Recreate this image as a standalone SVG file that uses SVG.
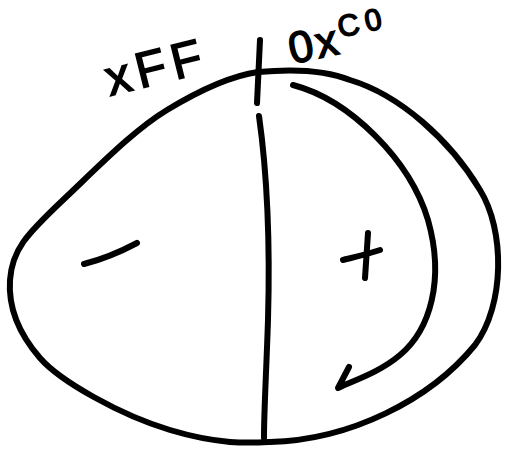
<svg xmlns="http://www.w3.org/2000/svg" width="507" height="449" viewBox="0 0 507 449">
<style>
.ink{fill:none;stroke:#000;stroke-width:6;stroke-linecap:round;stroke-linejoin:round}
.lbl{font-family:"Liberation Sans","DejaVu Sans",sans-serif;fill:#000;stroke:#000;stroke-width:1.5}
</style>
<rect width="507" height="449" fill="#fff"/>
<g id="oval">
<path class="ink" d="M258,72 C230,76 200,90 167,110 S100,165 63,200 S12,250 10,280 S20,335 40,358 S120,415 170,430 S250,443 270,442 C350,440 430,400 475,345 C505,305 505,230 480,190 C450,140 400,95 350,80 C330,72 300,68 258,72 Z"/>
</g>
<g id="divider">
<path class="ink" d="M260,40 L257,103"/>
<path class="ink" d="M259,116 C268,180 270,250 268,320 C266,380 264,410 264,438"/>
</g>
<g id="connectors">
<path class="ink" d="M293,85 C350,100 410,160 428,220 C445,280 430,330 400,355 C380,372 355,380 338,388 L349,367"/>
</g>
<g id="minus"><path class="ink" d="M84,264 C100,260 120,252 137,243"/></g>
<g id="plus"><path class="ink" d="M343,260 C355,257 368,254 380,250 M368,233 C367,248 366,263 365,278"/></g>
<g id="label-left"><text class="lbl" x="110" y="96" font-size="50" letter-spacing="6" transform="rotate(-14 110 96)">xFF</text></g>
<g id="label-right"><text class="lbl" x="292" y="64" font-size="44" letter-spacing="3" transform="rotate(-12 292 64)">0x<tspan font-size="30" dy="-16" letter-spacing="6">C0</tspan></text></g>
</svg>
